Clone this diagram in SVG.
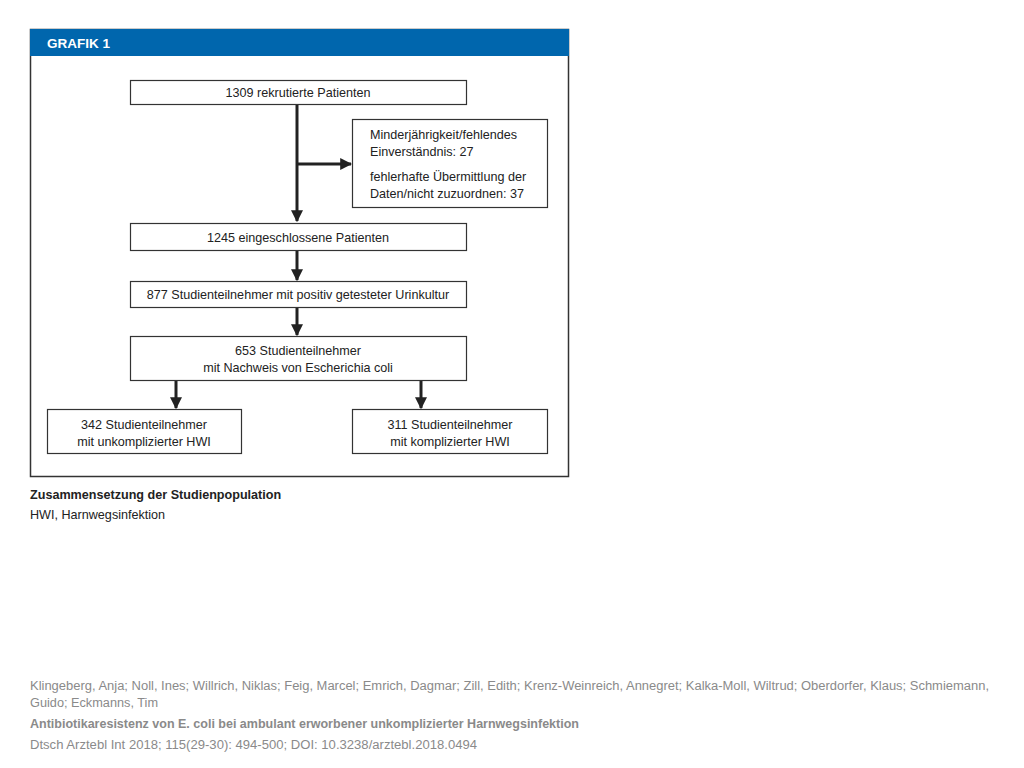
<svg xmlns="http://www.w3.org/2000/svg" width="1024" height="768" viewBox="0 0 1024 768">
<style>
.box{fill:#fff;stroke:#333;stroke-width:1.2}
.t{font-family:"Liberation Sans",Arial,sans-serif;font-size:12.6px;fill:#222}
.c{text-anchor:middle}
.ft{font-family:"Liberation Sans",Arial,sans-serif;font-size:12px;fill:#8a8a8a}
.ln{stroke:#222;stroke-width:3;fill:none}
</style>
<defs>
<marker id="ah" viewBox="0 0 10 10" refX="9" refY="5" markerWidth="4" markerHeight="4" orient="auto" markerUnits="strokeWidth">
<path d="M0,0 L10,5 L0,10 z" fill="#222"/>
</marker>
</defs>
<rect width="1024" height="768" fill="#fff"/>
<g id="frame">
<rect x="30.5" y="29.5" width="538" height="447" fill="#fff" stroke="#333" stroke-width="1.5"/>
<rect x="30" y="29" width="539" height="27" fill="#0066ad"/>
<text x="47" y="48" font-family="Liberation Sans,Arial,sans-serif" font-size="13.5px" font-weight="bold" fill="#fff">GRAFIK 1</text>
</g>
<g id="connectors">
<line class="ln" x1="297" y1="104" x2="297" y2="221" marker-end="url(#ah)"/>
<line class="ln" x1="297" y1="164" x2="351" y2="164" marker-end="url(#ah)"/>
<line class="ln" x1="297" y1="251" x2="297" y2="280" marker-end="url(#ah)"/>
<line class="ln" x1="297" y1="307" x2="297" y2="335" marker-end="url(#ah)"/>
<line class="ln" x1="176" y1="381" x2="176" y2="408" marker-end="url(#ah)"/>
<line class="ln" x1="421" y1="381" x2="421" y2="408" marker-end="url(#ah)"/>
</g>
<g id="n1"><rect class="box" x="130.5" y="80.5" width="336" height="24"/><text class="t c" x="298" y="97">1309 rekrutierte Patienten</text></g>
<g id="n_excl"><rect class="box" x="352.5" y="119.5" width="195" height="88"/>
<text class="t" x="370" y="139">Minderjährigkeit/fehlendes</text>
<text class="t" x="370" y="156">Einverständnis: 27</text>
<text class="t" x="370" y="181">fehlerhafte Übermittlung der</text>
<text class="t" x="370" y="198">Daten/nicht zuzuordnen: 37</text></g>
<g id="n2"><rect class="box" x="130.5" y="223.5" width="336" height="27"/><text class="t c" x="298" y="242">1245 eingeschlossene Patienten</text></g>
<g id="n3"><rect class="box" x="130.5" y="281.5" width="336" height="26"/><text class="t c" x="298" y="299">877 Studienteilnehmer mit positiv getesteter Urinkultur</text></g>
<g id="n4"><rect class="box" x="130.5" y="336.5" width="336" height="44"/><text class="t c" x="298" y="355">653 Studienteilnehmer</text><text class="t c" x="298" y="372">mit Nachweis von Escherichia coli</text></g>
<g id="n5"><rect class="box" x="47.5" y="409.5" width="194" height="44"/><text class="t c" x="144" y="429">342 Studienteilnehmer</text><text class="t c" x="144" y="446">mit unkomplizierter HWI</text></g>
<g id="n6"><rect class="box" x="352.5" y="409.5" width="195" height="44"/><text class="t c" x="450" y="429">311 Studienteilnehmer</text><text class="t c" x="450" y="446">mit komplizierter HWI</text></g>
<g id="caption">
<text class="t" x="30" y="499" font-weight="bold" font-size="13.5px">Zusammensetzung der Studienpopulation</text>
<text class="t" x="30" y="519" font-size="13.5px">HWI, Harnwegsinfektion</text>
</g>
<g id="footer">
<text class="ft" x="30" y="690" textLength="959" lengthAdjust="spacingAndGlyphs">Klingeberg, Anja; Noll, Ines; Willrich, Niklas; Feig, Marcel; Emrich, Dagmar; Zill, Edith; Krenz-Weinreich, Annegret; Kalka-Moll, Wiltrud; Oberdorfer, Klaus; Schmiemann,</text>
<text class="ft" x="30" y="707" textLength="128" lengthAdjust="spacingAndGlyphs">Guido; Eckmanns, Tim</text>
<text class="ft" x="30" y="728" font-weight="bold" fill="#7a7a7a" textLength="549" lengthAdjust="spacingAndGlyphs">Antibiotikaresistenz von E. coli bei ambulant erworbener unkomplizierter Harnwegsinfektion</text>
<text class="ft" x="30" y="749" textLength="447" lengthAdjust="spacingAndGlyphs">Dtsch Arztebl Int 2018; 115(29-30): 494-500; DOI: 10.3238/arztebl.2018.0494</text>
</g>
</svg>
